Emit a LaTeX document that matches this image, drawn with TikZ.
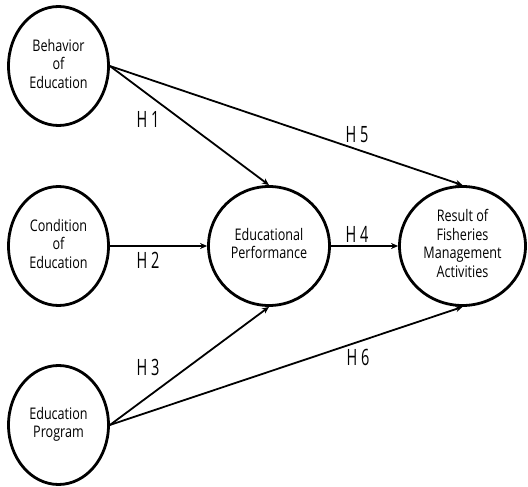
\documentclass[tikz,border=0pt]{standalone}
\usepackage{fontspec}
\usepackage{graphicx}
\setmainfont{Open Sans}
\usetikzlibrary{shapes.geometric,arrows.meta}
\newcommand\ntxt[1]{\scalebox{1}[1.27]{\fontsize{12.6}{14.6}\selectfont\begin{tabular}{@{}c@{}}#1\end{tabular}}}
\newcommand\htxt[1]{\scalebox{1}[1.55]{\fontsize{14.5}{16}\selectfont #1}}
\begin{document}
\begin{tikzpicture}[x=1pt,y=-1pt,
 var/.style={ellipse,draw,line width=2.8pt,inner sep=0pt,minimum width=100pt,minimum height=119pt},
 link/.style={line width=1.8pt,-{Stealth[length=7pt,width=6pt]}},
 hlab/.style={inner sep=0pt}]
\useasboundingbox (0,0) rectangle (528,487);
\node[var] (beh) at (58.5,66) {\ntxt{Behavior\\of\\Education}};
\node[var] (con) at (58.5,246) {\ntxt{Condition\\of\\Education}};
\node[var] (prg) at (58.5,425) {\ntxt{Education\\Program}};
\node[var,minimum width=121pt] (perf) at (269,246) {\ntxt{Educational\\Performance}};
\node[var,minimum width=126pt] (res) at (462.5,246) {\ntxt{Result of\\Fisheries\\Management\\Activities}};
\draw[link] (beh.east) -- (perf.north);
\draw[link] (beh.east) -- (res.north);
\draw[link] (con.east) -- (perf.west);
\draw[link] (perf.east) -- (res.west);
\draw[link] (prg.east) -- (perf.south);
\draw[link] (prg.east) -- (res.south);
\node[hlab] (h1) at (148,119) {\htxt{H 1}};
\node[hlab] (h2) at (148,260) {\htxt{H 2}};
\node[hlab] (h3) at (148,367) {\htxt{H 3}};
\node[hlab] (h4) at (357,234) {\htxt{H 4}};
\node[hlab] (h5) at (357,135) {\htxt{H 5}};
\node[hlab] (h6) at (358,357) {\htxt{H 6}};
\end{tikzpicture}
\end{document}
